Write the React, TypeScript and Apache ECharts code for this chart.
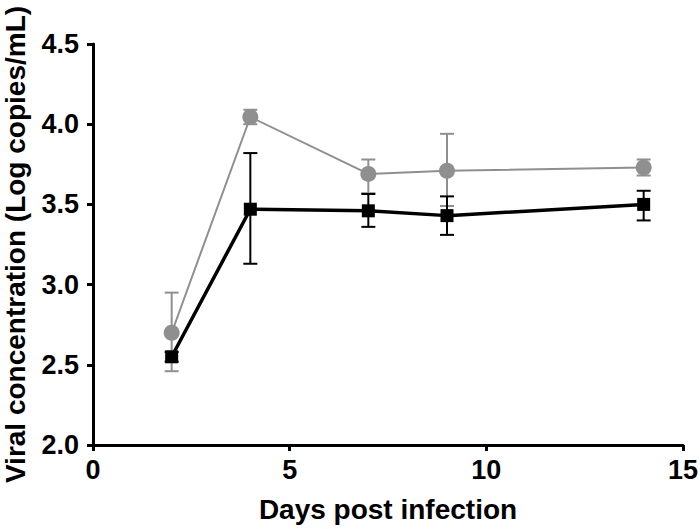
import React, { useEffect, useRef } from "react";
import * as echarts from "echarts";

const days = [2, 4, 7, 9, 14];
const grayMean = [2.7, 4.045, 3.69, 3.71, 3.73];
const grayLow = [2.46, 4.0, 3.57, 3.49, 3.68];
const grayHigh = [2.95, 4.09, 3.78, 3.94, 3.78];
const blackMean = [2.55, 3.47, 3.46, 3.43, 3.5];
const blackLow = [2.52, 3.13, 3.36, 3.31, 3.4];
const blackHigh = [2.58, 3.82, 3.565, 3.55, 3.585];

const yTicks = [2.0, 2.5, 3.0, 3.5, 4.0, 4.5];
const xTicks = [0, 5, 10, 15];

const GRAY = "#8f8f8f";
const BLACK = "#000000";

function errorSeries(low: number[], high: number[], color: string, width: number, z: number) {
  return {
    type: "custom",
    z,
    silent: true,
    data: days.map((d, i) => [d, low[i], high[i]]),
    renderItem: (params: any, api: any) => {
      const x = api.value(0);
      const lo = api.coord([x, api.value(1)]);
      const hi = api.coord([x, api.value(2)]);
      const hw = 7;
      const style = { stroke: color, lineWidth: width };
      return {
        type: "group",
        children: [
          { type: "line", shape: { x1: lo[0], y1: lo[1], x2: hi[0], y2: hi[1] }, style },
          { type: "line", shape: { x1: lo[0] - hw, y1: lo[1], x2: lo[0] + hw, y2: lo[1] }, style },
          { type: "line", shape: { x1: hi[0] - hw, y1: hi[1], x2: hi[0] + hw, y2: hi[1] }, style },
        ],
      };
    },
  };
}

export default function App() {
  const ref = useRef<HTMLDivElement>(null);
  useEffect(() => {
    if (!ref.current) return;
    const chart = echarts.init(ref.current, null, { renderer: "svg" });
    const font = "'Liberation Sans', Arial, sans-serif";
    chart.setOption({
      animation: false,
      backgroundColor: "#ffffff",
      grid: {
        left: 93,
        right: 17,
        top: 44,
        bottom: 84,
        containLabel: false,
        outerBoundsMode: "none",
      },
      xAxis: {
        type: "value",
        min: 0,
        max: 15,
        interval: 5,
        name: "Days post infection",
        nameLocation: "middle",
        nameGap: 50,
        nameTextStyle: { fontFamily: font, fontWeight: "bold", fontSize: 28, color: "#000" },
        axisLine: { show: true, onZero: false, lineStyle: { color: "#000", width: 3 } },
        axisTick: { show: true, length: 6, lineStyle: { color: "#000", width: 3 } },
        axisLabel: {
          margin: 11,
          fontFamily: font,
          fontWeight: "bold",
          fontSize: 27,
          color: "#000",
          formatter: (v: number) => (xTicks.includes(v) ? String(v) : ""),
        },
        splitLine: { show: false },
      },
      yAxis: {
        type: "value",
        min: 2.0,
        max: 4.5,
        interval: 0.5,
        name: "Viral concentration (Log copies/mL)",
        nameLocation: "middle",
        nameGap: 64,
        nameTextStyle: { fontFamily: font, fontWeight: "bold", fontSize: 28, color: "#000" },
        axisLine: { show: true, onZero: false, lineStyle: { color: "#000", width: 3 } },
        axisTick: { show: true, length: 6, lineStyle: { color: "#000", width: 3 } },
        axisLabel: {
          margin: 14,
          fontFamily: font,
          fontWeight: "bold",
          fontSize: 27,
          color: "#000",
          formatter: (v: number) => {
            const t = yTicks.find((k) => Math.abs(k - v) < 1e-6);
            return t !== undefined ? t.toFixed(1) : "";
          },
        },
        splitLine: { show: false },
      },
      series: [
        errorSeries(grayLow, grayHigh, GRAY, 2, 1),
        {
          type: "line",
          z: 2,
          data: days.map((d, i) => [d, grayMean[i]]),
          symbol: "circle",
          symbolSize: 16,
          itemStyle: { color: GRAY },
          lineStyle: { color: GRAY, width: 2 },
        },
        errorSeries(blackLow, blackHigh, BLACK, 2, 3),
        {
          type: "line",
          z: 4,
          data: days.map((d, i) => [d, blackMean[i]]),
          symbol: "rect",
          symbolSize: 13,
          itemStyle: { color: BLACK },
          lineStyle: { color: BLACK, width: 3.5 },
        },
      ],
    });
    return () => chart.dispose();
  }, []);
  return <div ref={ref} style={{ width: 700, height: 529, position: "absolute", left: 0, top: 0 }} />;
}
